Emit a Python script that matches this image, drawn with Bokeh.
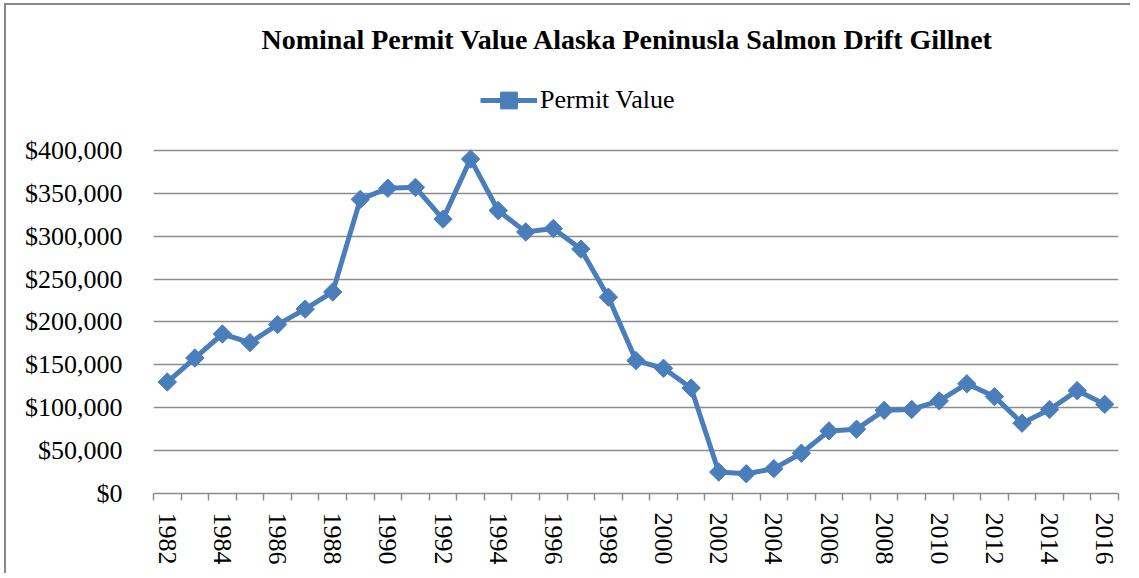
from bokeh.plotting import figure
from bokeh.models import (Range1d, FixedTicker, NumeralTickFormatter, Legend, LegendItem, Label)
from bokeh.embed import file_html
from bokeh.resources import INLINE

years = list(range(1982, 2017))
permit_value = [130000, 158000, 186000, 176000, 197000, 215000, 235000, 343000, 356000, 357000,
                320000, 390000, 330000, 305000, 309000, 285000, 229000, 155000, 146000, 123000,
                25000, 23000, 29000, 47000, 73000, 75000, 97000, 98000, 108000, 128000,
                113000, 82000, 98000, 120000, 104000]
y_ticks = [0, 50000, 100000, 150000, 200000, 250000, 300000, 350000, 400000]
x_label_years = [y for y in years if y % 2 == 0]
title_text = "Nominal Permit Value Alaska Peninusla Salmon Drift Gillnet"

FONT = "Liberation Serif"
BLUE = "#4a7ebb"
GRAY = "#8c8c8c"

# frame spans from figure top down to the $0 line; values above 400,000 hold title & legend
p = figure(width=1126, height=570, output_backend="svg", toolbar_location=None,
           x_range=Range1d(years[0] - 0.5, years[-1] + 0.5), y_range=Range1d(0, 569096),
           min_border_left=147, min_border_right=14, min_border_top=0, min_border_bottom=82)
p.styles = {"border-left": "2px solid #888888", "border-top": "2px solid #888888",
            "margin-left": "4px", "margin-top": "3px"}
p.outline_line_color = None
p.background_fill_color = "white"
p.border_fill_color = "white"

line_r = p.line(years, permit_value, line_color=BLUE, line_width=5)
mark_r = p.scatter(years, permit_value, marker="square", angle=0.785398, size=13,
                   fill_color=BLUE, line_color=BLUE)

# X axis
xa = p.xaxis[0]
xa.ticker = FixedTicker(ticks=x_label_years, minor_ticks=[y - 0.5 for y in years] + [years[-1] + 0.5])
xa.major_label_overrides = {y: str(y) for y in x_label_years}
xa.major_label_orientation = "vertical"
xa.major_tick_line_color = None
xa.major_tick_out = 0
xa.major_tick_in = 0
xa.minor_tick_line_color = GRAY
xa.minor_tick_line_width = 1.5
xa.minor_tick_out = 7
xa.minor_tick_in = 0
xa.axis_line_color = GRAY
xa.axis_line_width = 1.5
xa.major_label_text_font = FONT
xa.major_label_text_font_size = "26px"
xa.major_label_text_color = "black"
xa.major_label_standoff = 12

# Y axis
ya = p.yaxis[0]
ya.ticker = FixedTicker(ticks=y_ticks)
ya.formatter = NumeralTickFormatter(format="$0,0")
ya.axis_line_color = None
ya.major_tick_line_color = None
ya.minor_tick_line_color = None
ya.major_tick_out = 0
ya.major_tick_in = 0
ya.major_label_text_font = FONT
ya.major_label_text_font_size = "26px"
ya.major_label_text_color = "black"
ya.major_label_standoff = 31

p.xgrid.visible = False
p.ygrid.ticker = FixedTicker(ticks=y_ticks)
p.ygrid.grid_line_color = GRAY
p.ygrid.grid_line_width = 1.5

title = Label(x=1998.7, y=529400, text=title_text,
              text_align="center", text_baseline="middle", text_font=FONT,
              text_font_size="28px", text_font_style="bold", text_color="black")
p.add_layout(title)

legend = Legend(items=[LegendItem(label="Permit Value", renderers=[line_r, mark_r])],
                orientation="horizontal", location=(327, 372),
                border_line_color=None, background_fill_alpha=0,
                label_text_font=FONT, label_text_font_size="26px", label_text_color="black",
                glyph_width=57, glyph_height=42, label_standoff=3, padding=0)
p.add_layout(legend)

open("out.html", "w").write(file_html(p, INLINE))
